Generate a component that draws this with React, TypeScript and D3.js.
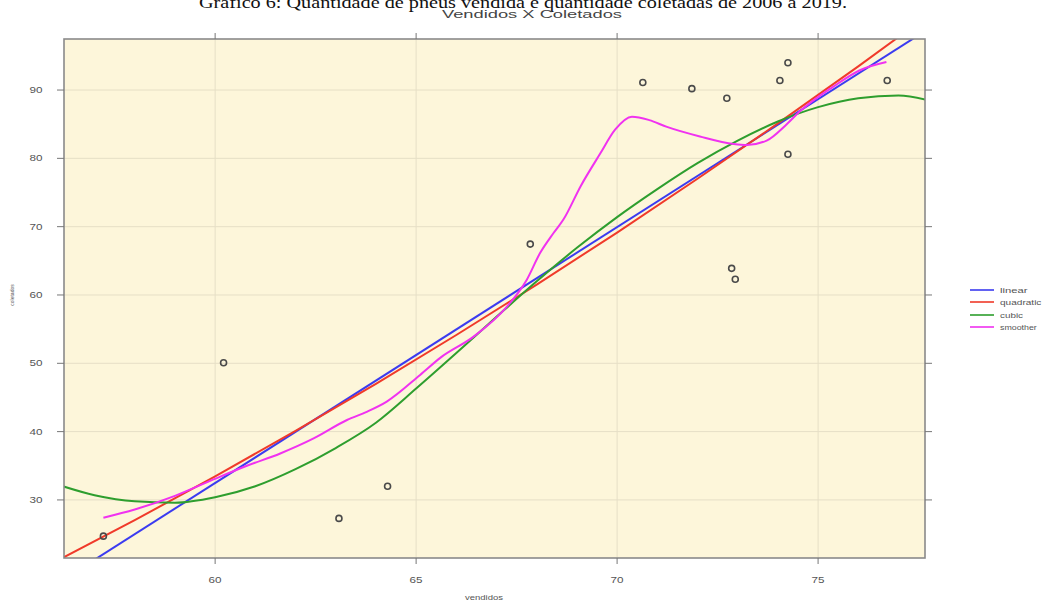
import React from "react";
import * as d3 from "d3";

const caption = "Gráfico 6: Quantidade de pneus vendida e quantidade coletadas de 2006 a 2019.";
const title = "Vendidos X Coletados";
const xLabel = "vendidos";
const yLabel = "coletados";

const xTicks = [60, 65, 70, 75];
const yTicks = [30, 40, 50, 60, 70, 80, 90];

// observed points (vendidos, coletados)
const vendidos = [57.22, 60.21, 63.08, 64.29, 67.84, 70.64, 71.86, 72.73, 74.05, 74.25, 74.25, 72.85, 72.94, 76.72];
const coletados = [24.7, 50.07, 27.3, 32.0, 67.45, 91.1, 90.2, 88.8, 91.4, 94.0, 80.6, 63.9, 62.3, 91.4];

const linearX = [56, 78];
const linearY = [17.5, 99.9];

const quadX = [56, 58, 60, 62, 64, 66, 68, 70, 72, 74, 76, 78];
const quadY = [20.88, 27.04, 33.45, 40.11, 47.0, 54.14, 61.52, 69.14, 77.01, 85.11, 93.46, 102.06];

const cubicX = [56.0, 57, 58, 59, 60, 61, 62, 63, 64, 65, 66, 67, 68, 69, 70, 71, 72, 73, 74, 75, 76, 77, 78];
const cubicY = [32.4, 30.7, 29.8, 29.6, 30.4, 32.0, 34.5, 37.6, 41.3, 46.3, 51.5, 56.8, 62.0, 66.9, 71.4, 75.5, 79.3, 82.6, 85.4, 87.5, 88.8, 89.2, 88.1];

const smoothX = [57.22, 58, 59, 59.96, 60.79, 61.62, 62.45, 63.28, 63.77, 64.27, 65.1, 65.6, 66.43, 67.26, 67.75, 68.08, 68.41, 68.66, 69.1, 69.58, 69.95, 70.37, 70.8, 71.24, 72.06, 72.9, 73.23, 73.72, 74.22, 74.55, 75.38, 76.04, 76.7];
const smoothY = [27.4, 28.6, 30.6, 33.0, 35.0, 36.8, 39.0, 41.7, 42.9, 44.4, 48.3, 50.8, 53.9, 58.3, 62.2, 66.1, 69.0, 71.0, 76.0, 80.7, 84.2, 86.1, 85.6, 84.6, 83.2, 82.1, 81.95, 82.6, 85.0, 86.9, 90.5, 92.9, 94.1];

const seriesNames = ["linear", "quadratic", "cubic", "smoother"];
const seriesColors = ["#3b3bf0", "#f03a2a", "#2e9e2e", "#f032f0"];

export default function App() {
  const left = 64, right = 925, top = 39, bottom = 558;
  const x = d3.scaleLinear().domain([56.24, 77.66]).range([left, right]);
  const y = d3.scaleLinear().domain([21.5, 97.47]).range([bottom, top]);
  const line = d3.line<[number, number]>().x(d => x(d[0])).y(d => y(d[1])).curve(d3.curveMonotoneX);
  const zip = (a: number[], b: number[]) => a.map((v, i) => [v, b[i]] as [number, number]);
  const series = [zip(linearX, linearY), zip(quadX, quadY), zip(cubicX, cubicY), zip(smoothX, smoothY)];
  const font = "Liberation Sans, Arial, sans-serif";
  const txt = "#555";
  const legY = [290, 302, 315, 327];

  return (
    <svg width={1053} height={601} style={{ position: "absolute", left: 0, top: 0, background: "#fff" }}>
      <defs>
        <clipPath id="panel">
          <rect x={left} y={top} width={right - left} height={bottom - top} />
        </clipPath>
      </defs>
      <text x={523} y={8} fontFamily="Liberation Serif, Times New Roman, serif" fontSize={16} textAnchor="middle" textLength={648} lengthAdjust="spacingAndGlyphs" fill="#111">{caption}</text>
      <text x={532} y={18} fontFamily={font} fontSize={10} textAnchor="middle" textLength={180} lengthAdjust="spacingAndGlyphs" fill="#444">{title}</text>
      <rect x={left} y={top} width={right - left} height={bottom - top} fill="#fdf6da" />
      {xTicks.map(t => (
        <line key={"gx" + t} x1={x(t)} x2={x(t)} y1={top} y2={bottom} stroke="#e6dfc6" strokeWidth={1} />
      ))}
      {yTicks.map(t => (
        <line key={"gy" + t} x1={left} x2={right} y1={y(t)} y2={y(t)} stroke="#e6dfc6" strokeWidth={1} />
      ))}
      <g clipPath="url(#panel)">
        {series.map((s, i) => (
          <path key={i} d={line(s) || ""} fill="none" stroke={seriesColors[i]} strokeWidth={2} />
        ))}
      </g>
      {vendidos.map((v, i) => (
        <circle key={"p" + i} cx={x(v)} cy={y(coletados[i])} r={3} fill="none" stroke="#4a4a4a" strokeWidth={1.6} />
      ))}
      <rect x={left} y={top} width={right - left} height={bottom - top} fill="none" stroke="#8a8a8a" strokeWidth={1.6} />
      {xTicks.map(t => (
        <g key={"tx" + t}>
          <line x1={x(t)} x2={x(t)} y1={bottom} y2={bottom + 6} stroke="#777" />
          <line x1={x(t)} x2={x(t)} y1={top} y2={top - 6} stroke="#777" />
          <text x={x(t)} y={583} fontFamily={font} fontSize={9} textAnchor="middle" fill={txt} textLength={13} lengthAdjust="spacingAndGlyphs">{t}</text>
        </g>
      ))}
      {yTicks.map(t => (
        <g key={"ty" + t}>
          <line x1={left - 7} x2={left} y1={y(t)} y2={y(t)} stroke="#777" />
          <line x1={right} x2={right + 7} y1={y(t)} y2={y(t)} stroke="#777" />
          <text x={36} y={y(t) + 3} fontFamily={font} fontSize={9} textAnchor="middle" fill={txt} textLength={13} lengthAdjust="spacingAndGlyphs">{t}</text>
        </g>
      ))}
      <text x={484} y={600} fontFamily={font} fontSize={8} textAnchor="middle" fill={txt} textLength={38} lengthAdjust="spacingAndGlyphs">{xLabel}</text>
      <text transform={`translate(14,${295}) rotate(-90)`} fontFamily={font} fontSize={5} textAnchor="middle" fill={txt}>{yLabel}</text>
      {seriesNames.map((n, i) => (
        <g key={n}>
          <line x1={970} x2={994} y1={legY[i]} y2={legY[i]} stroke={seriesColors[i]} strokeWidth={2} opacity={0.8} />
          <text x={1000} y={legY[i] + 2.5} fontFamily={font} fontSize={7} fill={txt} textLength={n.length * 4.6} lengthAdjust="spacingAndGlyphs">{n}</text>
        </g>
      ))}
    </svg>
  );
}
